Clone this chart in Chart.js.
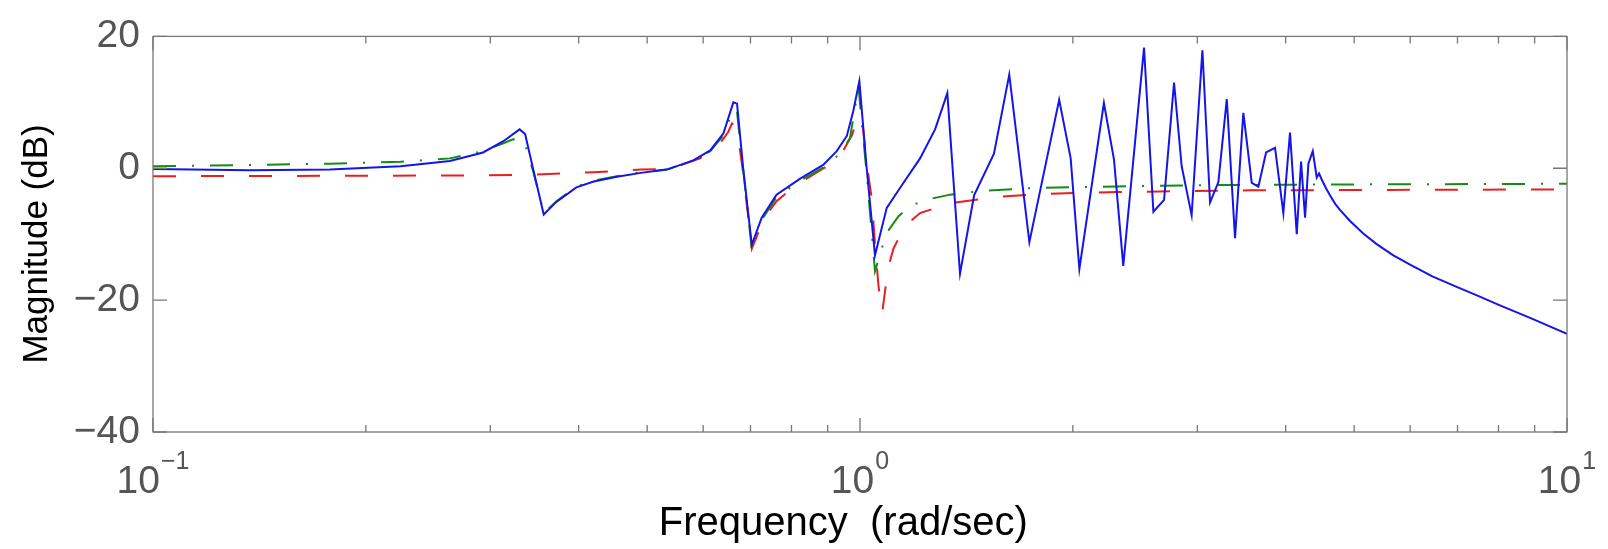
<!DOCTYPE html>
<html>
<head>
<meta charset="utf-8">
<script src="https://cdn.jsdelivr.net/npm/chart.js@4.4.1/dist/chart.umd.min.js"></script>
<style>
  html, body { margin: 0; padding: 0; background: #fff; }
  #wrap { width: 1608px; height: 549px; }
</style>
</head>
<body>
<div id="wrap"><canvas id="bode"></canvas></div>
<script>
// frequency (rad/sec) / magnitude (dB)
const blueFreq = [0.1, 0.137, 0.178, 0.224, 0.263, 0.293, 0.313, 0.330, 0.336, 0.345, 0.357, 0.372, 0.397, 0.42, 0.453, 0.49, 0.533,
  0.581, 0.614, 0.641, 0.662, 0.670, 0.684, 0.703, 0.726, 0.762, 0.822, 0.887, 0.927, 0.958, 0.978, 0.998, 1.022, 1.050,
  1.091, 1.139, 1.216, 1.277, 1.329, 1.385, 1.450, 1.547, 1.626, 1.736, 1.913, 1.986, 2.043, 2.213, 2.287, 2.357, 2.522,
  2.600, 2.692, 2.781, 2.851, 2.945, 3.050, 3.127, 3.213, 3.302, 3.392, 3.485, 3.582, 3.660, 3.753, 3.864, 3.970, 4.057,
  4.147, 4.206, 4.261, 4.307, 4.369, 4.426, 4.460, 4.498, 4.56, 4.621, 4.70, 4.774, 4.933, 5.15, 5.38, 5.68, 5.998,
  6.45, 6.982, 7.5, 8.038, 8.867, 10];
const blueMag = [-0.1, -0.3, -0.2, 0.3, 1.1, 2.4, 4.1, 5.9, 5.2, -0.2, -7.0, -5.1, -2.9, -2.0, -1.3, -0.7, -0.2,
  1.2, 2.7, 5.3, 10.0, 9.8, -0.3, -11.6, -7.5, -4.0, -1.6, 0.5, 2.6, 4.9, 8.6, 13.2, 0.0, -13.2,
  -6.0, -3.0, 1.5, 5.9, 11.4, -16.0, -4.1, 2.2, 14.2, -11.2, 10.4, 1.5, -15.3, 9.9, 1.3, -14.8, 18.3,
  -6.6, -4.8, 13.0, 0.3, -7.1, 17.9, -5.2, -2.1, 10.5, -10.6, 8.4, -2.2, -2.8, 2.4, 3.1, -6.8, 5.4,
  -10.0, 1.0, -7.5, 0.7, 2.6, -1.4, -0.8, -1.7, -3.0, -4.1, -5.4, -6.3, -8.0, -9.9, -11.5, -13.2, -14.6,
  -16.4, -18.0, -19.4, -20.8, -22.7, -25.1];

const greenFreq = [0.1, 0.137, 0.178, 0.224, 0.263, 0.293, 0.313, 0.323, 0.335, 0.345, 0.357, 0.372, 0.397, 0.42, 0.453, 0.49,
  0.533, 0.581, 0.614, 0.641, 0.662, 0.670, 0.684, 0.703, 0.726, 0.762, 0.822, 0.887, 0.937, 0.968, 0.978, 0.995, 1.022,
  1.050, 1.079, 1.096, 1.133, 1.183, 1.263, 1.341, 1.494, 1.757, 2.307, 3.196, 4.933, 10];
const greenMag = [0.3, 0.5, 0.7, 1.0, 1.5, 2.6, 3.8, 4.4, 4.1, -0.5, -6.8, -5.0, -2.8, -1.9, -1.2, -0.6,
  -0.2, 1.2, 2.6, 5.0, 9.0, 8.5, -0.5, -12.2, -7.8, -4.4, -1.9, 0.1, 2.2, 4.6, 7.5, 12.3, -0.8,
  -15.6, -11.4, -9.5, -7.3, -5.6, -4.6, -4.0, -3.4, -3.0, -2.75, -2.55, -2.45, -2.35];

const redFreq = [0.1, 0.178, 0.263, 0.341, 0.42, 0.49, 0.533, 0.556, 0.594, 0.634, 0.651, 0.659, 0.670, 0.684, 0.703,
  0.726, 0.738, 0.762, 0.806, 0.897, 0.947, 0.974, 0.9945, 1.0065, 1.022, 1.039, 1.050, 1.062, 1.075, 1.096, 1.115,
  1.158, 1.216, 1.341, 1.578, 1.857, 2.307, 3.562, 10];
const redMag = [-1.2, -1.15, -1.1, -1.0, -0.6, -0.2, -0.1, 0.4, 1.5, 3.8, 5.5, 6.8, 6.0, -1.0, -12.2,
  -8.5, -7.0, -5.0, -2.8, 0.3, 2.7, 5.0, 7.9, 7.5, 0.8, -4.6, -11.4, -17.8, -21.9, -15.1, -12.2,
  -8.7, -6.8, -5.3, -4.3, -3.85, -3.6, -3.35, -3.2];

const yTicks = [-40, -20, 0, 20];
const xMajor = [0.1, 1, 10];
const xMinor = [0.2, 0.3, 0.4, 0.5, 0.6, 0.7, 0.8, 0.9, 2, 3, 4, 5, 6, 7, 8, 9];
const xLabels = [['10', '\u22121'], ['10', '0'], ['10', '1']];

const FONT = '"Liberation Sans", Arial, Helvetica, sans-serif';
const AXIS = '#777';

function pts(fs, ms) {
  return fs.map((f, i) => ({ x: f, y: ms[i] }));
}

// matlab style box with inward ticks on all four sides + 10^n labels
const boxTicks = {
  id: 'boxTicks',
  afterDraw(chart) {
    const { ctx, chartArea: a, scales: { x, y } } = chart;
    ctx.save();
    ctx.strokeStyle = AXIS;
    ctx.lineWidth = 1.3;
    ctx.strokeRect(a.left, a.top, a.right - a.left, a.bottom - a.top);
    ctx.beginPath();
    const xt = (v, len) => {
      const px = x.getPixelForValue(v);
      ctx.moveTo(px, a.bottom); ctx.lineTo(px, a.bottom - len);
      ctx.moveTo(px, a.top); ctx.lineTo(px, a.top + len);
    };
    xMinor.forEach(v => xt(v, 7));
    xMajor.forEach(v => xt(v, 14));
    yTicks.forEach(v => {
      const py = y.getPixelForValue(v);
      ctx.moveTo(a.left, py); ctx.lineTo(a.left + 14, py);
      ctx.moveTo(a.right, py); ctx.lineTo(a.right - 14, py);
    });
    ctx.stroke();

    ctx.fillStyle = '#555';
    ctx.textBaseline = 'alphabetic';
    ctx.textAlign = 'left';
    xMajor.forEach((v, i) => {
      const [base, exp] = xLabels[i];
      ctx.font = '39px ' + FONT;
      const wb = ctx.measureText(base).width;
      ctx.font = '25px ' + FONT;
      const we = ctx.measureText(exp).width;
      const start = x.getPixelForValue(v) - (wb + we + 1) / 2;
      ctx.font = '39px ' + FONT;
      ctx.fillText(base, start, a.bottom + 61);
      ctx.font = '25px ' + FONT;
      ctx.fillText(exp, start + wb + 1, a.bottom + 37);
    });
    ctx.restore();
  }
};

new Chart(document.getElementById('bode'), {
  type: 'scatter',
  data: {
    datasets: [
      { label: 'blue', data: pts(blueFreq, blueMag), showLine: true, borderColor: 'rgb(20, 20, 235)', borderWidth: 2, pointRadius: 0, tension: 0 },
      { label: 'green', data: pts(greenFreq, greenMag), showLine: true, borderColor: 'rgb(20, 140, 20)', borderWidth: 2, borderDash: [23, 16, 2, 16], pointRadius: 0, tension: 0 },
      { label: 'red', data: pts(redFreq, redMag), showLine: true, borderColor: 'rgb(235, 30, 30)', borderWidth: 2, borderDash: [23, 25], pointRadius: 0, tension: 0 }
    ]
  },
  options: {
    responsive: true,
    maintainAspectRatio: false,
    animation: false,
    layout: { padding: { left: 0, top: 22, right: 41, bottom: 0 } },
    plugins: { legend: { display: false }, tooltip: { enabled: false } },
    scales: {
      x: {
        type: 'logarithmic',
        min: 0.1,
        max: 10,
        ticks: { display: false },
        grid: { display: false, drawTicks: false },
        border: { display: false },
        // trailing spaces nudge the centred label left like matlab did
        title: { display: true, text: 'Frequency  (rad/sec)   ', color: '#000', font: { size: 40, family: FONT }, padding: { top: 0, bottom: 1 } },
        afterFit(s) { s.height = 117; }
      },
      y: {
        min: -40,
        max: 20,
        ticks: {
          stepSize: 20,
          color: '#555',
          padding: 13,
          font: { size: 39, family: FONT },
          callback: v => (v < 0 ? '\u2212' + Math.abs(v) : String(v))
        },
        grid: { display: false, drawTicks: false },
        border: { display: false },
        // same trick, pushes it a bit lower
        title: { display: true, text: 'Magnitude (dB)  ', color: '#000', font: { size: 35, family: FONT }, padding: { top: 16, bottom: 0 } },
        afterFit(s) { s.width = 153; }
      }
    }
  },
  plugins: [boxTicks]
});
</script>
</body>
</html>
